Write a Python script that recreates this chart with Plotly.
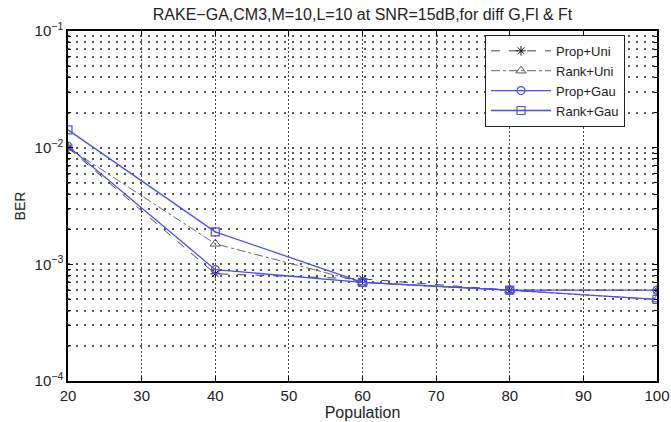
import plotly.graph_objects as go

population = [20, 40, 60, 80, 100]
ber_prop_uni = [0.0100, 0.00083, 0.00075, 0.00060, 0.00060]
ber_rank_uni = [0.0100, 0.00150, 0.00070, 0.00060, 0.00050]
ber_prop_gau = [0.0103, 0.00090, 0.00070, 0.00060, 0.00060]
ber_rank_gau = [0.0142, 0.00190, 0.00070, 0.00060, 0.00050]

y_tick_vals = [1e-4, 1e-3, 1e-2, 1e-1]
y_tick_text = ["10<sup>−4</sup>", "10<sup>−3</sup>", "10<sup>−2</sup>", "10<sup>−1</sup>"]
y_minor_vals = [m * 10.0 ** e for e in (-4, -3, -2) for m in range(2, 10)]
x_tick_vals = [20, 30, 40, 50, 60, 70, 80, 90, 100]

font = "Liberation Sans, Arial, sans-serif"
blue = "#4b4bff"

fig = go.Figure()
fig.add_trace(go.Scatter(
    x=population, y=ber_prop_uni, name="Prop+Uni", mode="lines+markers",
    line=dict(color="#444444", width=1, dash="dash"),
    marker=dict(symbol="asterisk-open", size=8, color="#111111", line=dict(width=1, color="#111111"))))
fig.add_trace(go.Scatter(
    x=population, y=ber_rank_uni, name="Rank+Uni", mode="lines+markers",
    line=dict(color="#666666", width=1, dash="dashdot"),
    marker=dict(symbol="triangle-up-open", size=9, color="#555555", line=dict(width=1, color="#555555"))))
fig.add_trace(go.Scatter(
    x=population, y=ber_prop_gau, name="Prop+Gau", mode="lines+markers",
    line=dict(color=blue, width=1.3),
    marker=dict(symbol="circle-open", size=8, color=blue, line=dict(width=1.2, color=blue))))
fig.add_trace(go.Scatter(
    x=population, y=ber_rank_gau, name="Rank+Gau", mode="lines+markers",
    line=dict(color=blue, width=1.3),
    marker=dict(symbol="square-open", size=8, color=blue, line=dict(width=1.2, color=blue))))

fig.update_layout(
    width=671, height=422,
    margin=dict(l=68, r=14, t=31, b=41, autoexpand=False),
    paper_bgcolor="white", plot_bgcolor="white",
    font=dict(family=font, size=14, color="#222222"),
    title=dict(text="RAKE−GA,CM3,M=10,L=10 at SNR=15dB,for diff G,Fl & Ft",
               x=0.5, xref="paper", xanchor="center", y=0.952, yanchor="bottom",
               font=dict(size=16, family=font)),
    showlegend=True,
    legend=dict(x=0.708, y=0.989, xanchor="left", yanchor="top",
                bgcolor="white", bordercolor="#222222", borderwidth=1,
                font=dict(size=13, family=font), tracegroupgap=0,
                itemwidth=60),
    xaxis=dict(range=[20, 100], tickvals=x_tick_vals, showline=True, mirror="ticks",
               linecolor="black", linewidth=1.5, ticks="inside", ticklen=5,
               tickcolor="black", showgrid=True, gridcolor="#444444",
               griddash="2px,2px", gridwidth=1, zeroline=False, automargin=False,
               title=dict(text="Population", font=dict(size=16), standoff=0),
               tickfont=dict(size=15)),
    yaxis=dict(type="log", range=[-4, -1], tickvals=y_tick_vals, ticktext=y_tick_text,
               showline=True, mirror="ticks", linecolor="black", linewidth=1.5,
               ticks="inside", ticklen=5, tickcolor="black",
               showgrid=True, gridcolor="#555555", griddash="2px,6px", gridwidth=1.5,
               zeroline=False, automargin=False,
               minor=dict(tickvals=y_minor_vals, ticks="inside", ticklen=3,
                          tickcolor="black", showgrid=True,
                          gridcolor="#555555", griddash="2px,6px", gridwidth=1.5),
               title=dict(text="BER", font=dict(size=14), standoff=6),
               tickfont=dict(size=15)),
)

fig.write_html("out.html")
